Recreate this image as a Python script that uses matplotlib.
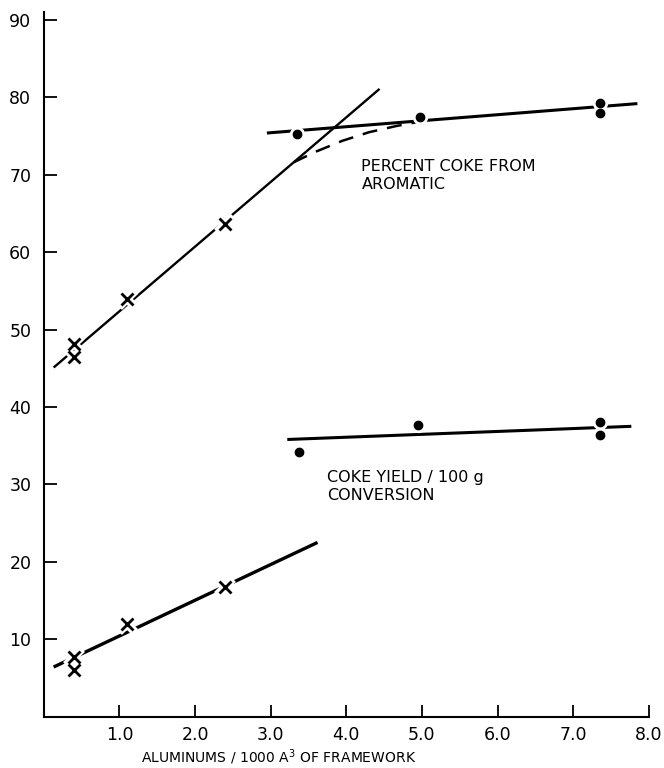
import matplotlib
matplotlib.use("Agg")
import matplotlib.pyplot as plt
import numpy as np

# percent coke from aromatic (upper set)
aro_x_pts = [0.4, 0.4, 1.1, 2.4]
aro_y_pts = [48.2, 46.5, 54.0, 63.7]
aro_dot_x = [3.35, 4.97, 7.35, 7.35]
aro_dot_y = [75.3, 77.5, 79.3, 78.0]
aro_steep_x = [0.13, 4.44]
aro_steep_y = [45.1, 81.1]
aro_flat_x = [2.95, 7.85]
aro_flat_y = [75.4, 79.2]
aro_curve_x = [3.3, 3.6, 3.95, 4.3, 4.66, 4.93]
aro_curve_y = [71.6, 73.0, 74.4, 75.5, 76.3, 76.8]

# coke yield / 100 g conversion (lower set)
yld_x_pts = [0.4, 0.4, 1.1, 2.4]
yld_y_pts = [7.7, 6.0, 12.0, 16.7]
yld_dot_x = [3.38, 4.95, 7.35, 7.35]
yld_dot_y = [34.2, 37.7, 38.0, 36.4]
yld_steep_x = [0.13, 3.62]
yld_steep_y = [6.4, 22.5]
yld_flat_x = [3.22, 7.77]
yld_flat_y = [35.8, 37.5]

x_ticks = [1, 2, 3, 4, 5, 6, 7, 8]
x_ticklabels = ["1.0", "2.0", "3.0", "4.0", "5.0", "6.0", "7.0", "8.0"]
y_ticks = [10, 20, 30, 40, 50, 60, 70, 80, 90]

plt.rcParams["font.family"] = "DejaVu Sans"

fig = plt.figure(figsize=(6.64, 7.68), dpi=100)
ax = fig.add_axes([0.066, 0.067, 0.911, 0.917])


def draw_set(ax, xp, yp, dx, dy, sx, sy, fx, fy, steep_lw):
    ax.plot(sx, sy, color="black", lw=steep_lw, solid_capstyle="butt", zorder=2)
    ax.plot(fx, fy, color="black", lw=2.2, solid_capstyle="butt", zorder=2)
    # white underlay to break the lines around the markers
    ax.plot(xp, yp, ls="none", marker="x", ms=11, mew=6, color="white", zorder=3)
    ax.plot(dx, dy, ls="none", marker="o", ms=10, color="white", zorder=3)
    ax.plot(xp, yp, ls="none", marker="x", ms=8, mew=2, color="black", zorder=4)
    ax.plot(dx, dy, ls="none", marker="o", ms=6, color="black", zorder=4)


draw_set(ax, aro_x_pts, aro_y_pts, aro_dot_x, aro_dot_y,
         aro_steep_x, aro_steep_y, aro_flat_x, aro_flat_y, 1.7)
draw_set(ax, yld_x_pts, yld_y_pts, yld_dot_x, yld_dot_y,
         yld_steep_x, yld_steep_y, yld_flat_x, yld_flat_y, 2.4)

ax.plot(aro_curve_x, aro_curve_y, color="black", lw=1.8,
        dashes=(6, 4), zorder=2)

ax.text(4.2, 72.0, "PERCENT COKE FROM\nAROMATIC", fontsize=11.5,
        va="top", ha="left", linespacing=1.25)
ax.text(3.75, 31.8, "COKE YIELD / 100 g\nCONVERSION", fontsize=11.5,
        va="top", ha="left", linespacing=1.25)

ax.set_xlim(0, 8.0)
ax.set_ylim(0, 91)
ax.set_xticks(x_ticks)
ax.set_xticklabels(x_ticklabels)
ax.set_yticks(y_ticks)
ax.tick_params(direction="in", length=9, width=1.3, labelsize=12.5, pad=7)
ax.tick_params(axis="y", pad=9)

for side in ("top", "right"):
    ax.spines[side].set_visible(False)
for side in ("left", "bottom"):
    ax.spines[side].set_linewidth(1.5)

fig.text(279 / 664, 1 - 757 / 768, "ALUMINUMS / 1000 A$^3$ OF FRAMEWORK",
         fontsize=10, ha="center", va="center")

fig.savefig("out.png", dpi=100)
